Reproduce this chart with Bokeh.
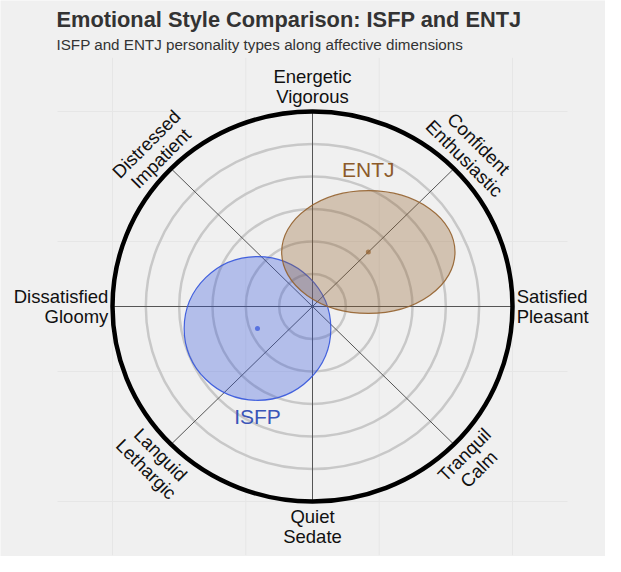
import numpy as np
from bokeh.plotting import figure
from bokeh.core.properties import value
from bokeh.embed import file_html
from bokeh.resources import INLINE

# ---- data ----
types = ["ISFP", "ENTJ"]
center_x = [-0.33, 0.335]
center_y = [-0.135, 0.335]
extent_x = [0.88, 1.04]    # full width of each type's region
extent_y = [0.885, 0.755]  # full height of each type's region
type_colors = ["#3253dc", "#93602c"]
type_text_colors = ["#3a55b8", "#8c5a2a"]

dim_labels = ["Satisfied\nPleasant", "Confident\nEnthusiastic", "Energetic\nVigorous",
              "Distressed\nImpatient", "Dissatisfied\nGloomy", "Languid\nLethargic",
              "Quiet\nSedate", "Tranquil\nCalm"]
dim_angles_deg = [0, 45, 90, 135, 180, 225, 270, 315]
ring_radii = [0.2, 0.4, 0.6, 0.8, 1.0]
outer_radius = 1.2
grid_ticks = [-1.2, -0.4, 0.4, 1.2]
panel_limit = 1.53

title_text = "Emotional Style Comparison: ISFP and ENTJ"
subtitle_text = "ISFP and ENTJ personality types along affective dimensions"

FONT = "Liberation Sans"
BG = "#f0f0f0"

W, H = 605, 556
CX, CY = 312, 306          # pixel position of polar centre
SX, SY = 166.67, 162.5     # pixels per data unit


def dx(px):
    return (px - CX) / SX


def dy(py):
    return (CY - py) / SY


p = figure(title=None, width=W, height=H,
           x_range=(dx(0), dx(W)), y_range=(dy(H), dy(0)),
           output_backend="svg", toolbar_location=None,
           min_border=0, min_border_left=0, min_border_right=0,
           min_border_top=0, min_border_bottom=0,
           background_fill_color=BG, border_fill_color=BG)
p.outline_line_color = None
p.axis.visible = False
p.grid.grid_line_color = None

# faint panel grid
n = len(grid_ticks)
p.segment(x0=grid_ticks, y0=[-panel_limit] * n, x1=grid_ticks, y1=[panel_limit] * n,
          line_color="#e6e6e6", line_width=1)
p.segment(x0=[-panel_limit] * n, y0=grid_ticks, x1=[panel_limit] * n, y1=grid_ticks,
          line_color="#e6e6e6", line_width=1)

# titles
p.text(x=[dx(56)], y=[dy(19)], text=[title_text], text_font=value(FONT),
       text_font_size="21.8px", text_font_style="bold", text_color="#333333",
       text_align="left", text_baseline="alphabetic")
p.text(x=[dx(56)], y=[dy(44)], text=[subtitle_text], text_font=value(FONT),
       text_font_size="15.2px", text_color="#333333",
       text_align="left", text_baseline="alphabetic")

# rings
p.ellipse(x=[0] * len(ring_radii), y=[0] * len(ring_radii),
          width=[2 * r for r in ring_radii], height=[2 * r for r in ring_radii],
          fill_color=None, line_color="#c8c8c8", line_width=2.5)

# radial spokes
ang = np.radians(dim_angles_deg)
p.segment(x0=[0] * len(ang), y0=[0] * len(ang),
          x1=list(outer_radius * np.cos(ang)), y1=list(outer_radius * np.sin(ang)),
          line_color="#555555", line_width=1)

# outer boundary
p.ellipse(x=[0], y=[0], width=[2 * outer_radius], height=[2 * outer_radius],
          fill_color=None, line_color="black", line_width=4.5)

# type regions
for i, t in enumerate(types):
    p.ellipse(x=[center_x[i]], y=[center_y[i]], width=[extent_x[i]], height=[extent_y[i]],
              fill_color=type_colors[i], fill_alpha=0.32,
              line_color=type_colors[i], line_width=1.2, line_alpha=0.9)
    p.scatter(x=[center_x[i]], y=[center_y[i]], size=5, marker="circle",
              fill_color=type_colors[i], line_color=None, fill_alpha=0.7)
    if center_y[i] > 0:
        ly = center_y[i] + extent_y[i] / 2 + 0.13
    else:
        ly = center_y[i] - extent_y[i] / 2 - 0.10
    p.text(x=[center_x[i]], y=[ly], text=[t],
           text_font=value(FONT), text_font_size="21px", text_color=type_text_colors[i],
           text_align="center", text_baseline="middle")

# dimension labels
label_r = 1.225
for lab, a in zip(dim_labels, dim_angles_deg):
    th = np.radians(a)
    lx, ly = label_r * np.cos(th), label_r * np.sin(th)
    if a == 0:
        al, bl, rot = "left", "middle", 0
    elif a == 180:
        al, bl, rot = "right", "middle", 0
    elif a == 90:
        al, bl, rot = "center", "bottom", 0
    elif a == 270:
        al, bl, rot = "center", "top", 0
    elif a == 45:
        al, bl, rot = "center", "bottom", -np.pi / 4
    elif a == 135:
        al, bl, rot = "center", "bottom", np.pi / 4
    elif a == 225:
        al, bl, rot = "center", "top", -np.pi / 4
    else:
        al, bl, rot = "center", "top", np.pi / 4
    p.text(x=[lx], y=[ly], text=[lab], angle=rot,
           text_font=value(FONT), text_font_size="18.5px", text_color="#111111",
           text_align=al, text_baseline=bl, text_line_height=0.97)

open("out.html", "w").write(file_html(p, INLINE))
